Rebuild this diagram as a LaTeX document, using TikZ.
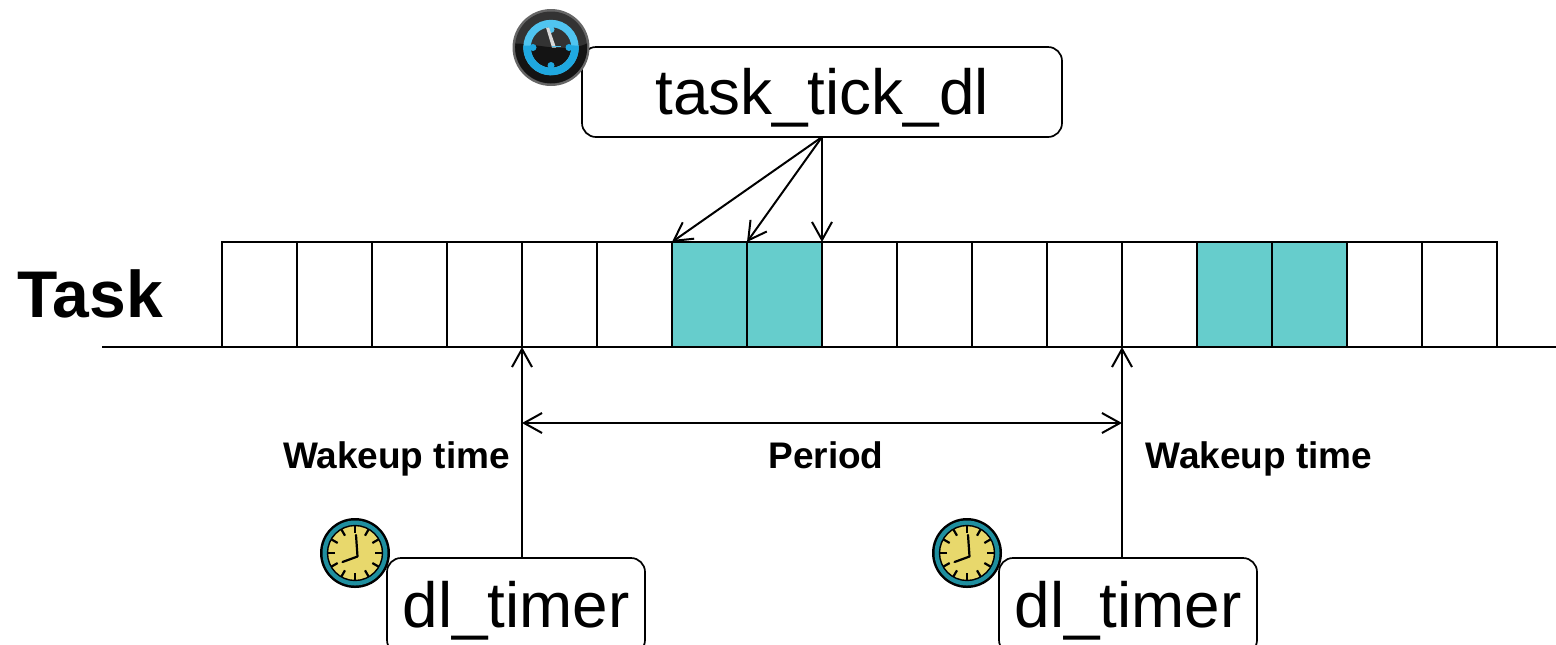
\documentclass[tikz,border=0pt]{standalone}
\usepackage{fontspec}
\setmainfont{Liberation Sans}
\usetikzlibrary{arrows.meta}
\definecolor{cellteal}{HTML}{66CDCC}
\definecolor{ringteal}{HTML}{1F8F9F}
\definecolor{faceyellow}{HTML}{E8D86C}
\definecolor{iconblue}{HTML}{1FA8E0}
\definecolor{iconlight}{HTML}{50C4F0}
\tikzset{
  every node/.style={inner sep=0pt,outer sep=0pt},
  cellbox/.style={draw=black,line width=0.85pt,minimum width=37.5pt,minimum height=52.5pt,anchor=south west},
  callbox/.style={draw=black,line width=0.85pt,rounded corners=7pt,fill=white,font=\fontsize{31.9}{32}\selectfont,text height=23pt,text depth=1.5pt},
  lbl/.style={font=\bfseries\fontsize{18.5}{20}\selectfont,text height=13.2pt,text depth=0pt},
  arr/.style={line width=1pt,-{Straight Barb[length=9pt,width=10pt,line width=1pt]}},
  arrb/.style={line width=1pt,{Straight Barb[length=9pt,width=10pt,line width=1pt]}-{Straight Barb[length=9pt,width=10pt,line width=1pt]}},
}
\newcommand{\yellowclock}[2]{%
  \begin{scope}[shift={(#1,#2)}]
    \fill[black] (0,0) circle (35);
    \fill[ringteal] (0,0) circle (32.5);
    \draw[black,line width=0.7pt,fill=faceyellow] (0,0) circle (27.5);
    \foreach \a in {0,30,...,330}
      \draw[black,line width=1.1pt] (\a:20) -- (\a:27);
    \draw[black,line width=1.1pt,line cap=round,line join=round] (1,-18) -- (2.5,3.5) -- (-12.5,9);
  \end{scope}}
\begin{document}
\begin{tikzpicture}[x=0.5pt,y=-0.5pt]
\useasboundingbox (0,0) rectangle (1556,644);
\begin{scope}
\clip (0,0) rectangle (1556,644);
% baseline
\coordinate (bl) at (102,347);
\coordinate (br) at (1556,347);
\draw[line width=0.85pt] (bl) -- (br);
% cells
\foreach \i in {1,...,17}{
  \pgfmathsetmacro{\xx}{222+75*(\i-1)}
  \pgfmathsetmacro{\ff}{(\i==7||\i==8||\i==14||\i==15)?"cellteal":"white"}
  \node[cellbox,fill=\ff] (c\i) at (\xx,347) {};
}
% labels
\node[anchor=base west,font=\bfseries\fontsize{33}{33}\selectfont] (task) at (17.5,317) {Task};
\node[callbox,text depth=0.5pt,minimum width=240pt,minimum height=45pt] (tick) at (822,92) {task\_tick\_dl};
\node[callbox,minimum width=129pt,minimum height=48pt] (t1) at (516,606) {dl\_timer};
\node[callbox,minimum width=129pt,minimum height=48pt] (t2) at (1128,606) {dl\_timer};
\node[lbl] (w1) at (396.5,455) {Wakeup time};
\node[lbl] (pd) at (826,455) {Period};
\node[lbl] (w2) at (1259,455) {Wakeup time};
% connectors
\draw[arr] (tick.south) -- (c7.north west);
\draw[arr] (tick.south) -- (c8.north west);
\draw[arr] (tick.south) -- (c8.north east);
\coordinate (s1) at (c5.south west |- t1.north);
\coordinate (s2) at (c13.south west |- t2.north);
\draw[arr] (s1) -- (c5.south west);
\draw[arr] (s2) -- (c13.south west);
\path (c5.south west) ++(0,76) coordinate (p1);
\path (c13.south west) ++(0,76) coordinate (p2);
\draw[arrb] (p1) -- (p2);
% clocks
\yellowclock{355}{553}
\yellowclock{967}{553}
% dark icon
\begin{scope}[shift={(551,47.5)}]
  \fill[black!60] (0,0) circle (38.5);
  \fill[black!80] (0,0) circle (36);
  \fill[black!92] (36,-4) arc (-6:186:36) .. controls (-15,-4) and (15,6) .. cycle;
  \draw[iconlight,line width=3.7pt] (0,0) circle (24);
  \draw[iconblue,line width=3.7pt] (24,-2) arc (-5:185:24);
  \foreach \a in {0,180}
    \fill[iconblue] (\a:18) circle (3.5);
  \fill[iconblue] (90:18) circle (3.5);
  \fill[iconlight] (270:18) circle (3.5);
  \fill[black!15] (1,0) -- (-5,-20) -- (-2,-20) -- (5,0) -- cycle;
  \draw[iconlight,line width=0.9pt] (1,-1) -- (10,-1);
\end{scope}
\end{scope}
\end{tikzpicture}
\end{document}
